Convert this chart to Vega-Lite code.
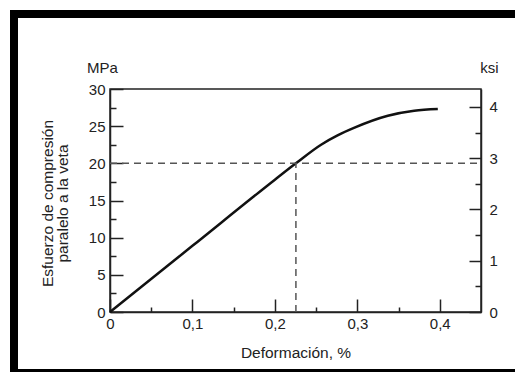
{
  "$schema": "https://vega.github.io/schema/vega-lite/v6.json",
  "padding": {"left": 10, "top": 10, "right": 0, "bottom": 0},
  "background": "white",
  "spacing": 0,
  "vconcat": [
    {
      "width": 505, "height": 8,
      "view": {"fill": "black", "stroke": null},
      "data": {"values": []},
      "mark": "point",
      "encoding": {}
    },
    {
      "spacing": 21,
      "hconcat": [
        {
          "width": 8, "height": 351,
          "view": {"fill": "black", "stroke": null},
          "data": {"values": []},
          "mark": "point",
          "encoding": {}
        },
        {
          "spacing": 40,
          "vconcat": [
            {"width": 1, "height": 1, "view": {"stroke": null}, "data": {"values": []}, "mark": "point", "encoding": {}},
            {
              "width": 371, "height": 223,
              "view": {"stroke": "#222", "strokeWidth": 1.5},
              "resolve": {"scale": {"y": "independent"}, "axis": {"y": "independent", "x": "independent"}},
              "layer": [
                {
                  "data": {"values": [
                    {"strain": 0, "stress": 0},
                    {"strain": 0.1, "stress": 8.9},
                    {"strain": 0.2, "stress": 17.8},
                    {"strain": 0.2255, "stress": 20},
                    {"strain": 0.256, "stress": 22.5},
                    {"strain": 0.276, "stress": 23.75},
                    {"strain": 0.2966, "stress": 24.8},
                    {"strain": 0.337, "stress": 26.4},
                    {"strain": 0.369, "stress": 27.07},
                    {"strain": 0.3976, "stress": 27.3}
                  ]},
                  "mark": {"type": "line", "color": "#111", "strokeWidth": 2.5, "interpolate": "monotone"},
                  "encoding": {
                    "x": {
                      "field": "strain", "type": "quantitative",
                      "scale": {"domain": [0, 0.45], "nice": false, "zero": false},
                      "axis": {
                        "orient": "bottom",
                        "title": "Deformación, %",
                        "titleY": 40, "titleBaseline": "middle",
                        "titleFontSize": 15.5,
                        "values": [0, 0.05, 0.1, 0.15, 0.2, 0.25, 0.3, 0.35, 0.4],
                        "labelExpr": "abs(datum.value*10 - round(datum.value*10)) < 0.001 ? replace(format(datum.value, '.1~f'), '.', ',') : ''",
                        "tickSize": {"condition": {"test": "abs(datum.value*10 - round(datum.value*10)) < 0.001", "value": -13}, "value": -5},
                        "labelPadding": 17,
                        "labelFlush": false,
                        "grid": false
                      }
                    },
                    "y": {
                      "field": "stress", "type": "quantitative",
                      "scale": {"domain": [0, 30], "nice": false},
                      "axis": {
                        "orient": "left",
                        "title": "MPa",
                        "titleAngle": 0, "titleX": -8, "titleY": -22,
                        "titleAlign": "center", "titleBaseline": "middle",
                        "values": [0, 2.5, 5, 7.5, 10, 12.5, 15, 17.5, 20, 22.5, 25, 27.5, 30],
                        "labelExpr": "datum.value % 5 === 0 ? datum.label : ''",
                        "tickSize": {"condition": {"test": "datum.value % 5 === 0", "value": -13}, "value": -6},
                        "labelPadding": 18,
                        "labelFlush": false,
                        "grid": false
                      }
                    }
                  }
                },
                {
                  "data": {"values": [
                    {"x1": 0, "x2": 0.45, "y1": 20, "y2": 20},
                    {"x1": 0.2255, "x2": 0.2255, "y1": 0, "y2": 20}
                  ]},
                  "mark": {"type": "rule", "color": "#555", "strokeWidth": 1.5, "strokeDash": [7, 5]},
                  "encoding": {
                    "x": {"field": "x1", "type": "quantitative", "axis": null},
                    "x2": {"field": "x2"},
                    "y": {
                      "field": "y1", "type": "quantitative",
                      "scale": {"domain": [0, 30], "nice": false},
                      "axis": {
                        "orient": "left",
                        "title": ["Esfuerzo de compresión", "paralelo a la veta"],
                        "titleX": -63, "titleY": 114,
                        "titleAngle": -90,
                        "titleFontSize": 15.5,
                        "titleAlign": "center", "titleBaseline": "middle",
                        "titleLineHeight": 15,
                        "labels": false, "ticks": false, "domain": false, "grid": false
                      }
                    },
                    "y2": {"field": "y2"}
                  }
                },
                {
                  "data": {"values": [{}]},
                  "mark": {"type": "point", "opacity": 0},
                  "encoding": {
                    "y": {
                      "datum": 0, "type": "quantitative",
                      "scale": {"domain": [0, 4.351], "nice": false},
                      "axis": {
                        "orient": "right",
                        "title": "ksi",
                        "titleAngle": 0, "titleX": 8, "titleY": -22,
                        "titleAlign": "center", "titleBaseline": "middle",
                        "values": [0, 0.5, 1, 1.5, 2, 2.5, 3, 3.5, 4],
                        "labelExpr": "datum.value % 1 === 0 ? format(datum.value, 'd') : ''",
                        "tickSize": {"condition": {"test": "datum.value % 1 === 0", "value": -12}, "value": -6},
                        "labelPadding": 20,
                        "labelFlush": false,
                        "grid": false
                      }
                    }
                  }
                }
              ]
            }
          ]
        }
      ]
    },
    {
      "width": 505, "height": 10,
      "view": {"fill": "black", "stroke": null},
      "data": {"values": []},
      "mark": "point",
      "encoding": {}
    }
  ],
  "config": {
    "font": "Liberation Sans",
    "axis": {
      "labelFont": "Liberation Sans",
      "labelFontSize": 15,
      "labelColor": "#222",
      "titleFont": "Liberation Sans",
      "titleFontSize": 15,
      "titleFontWeight": "normal",
      "titleColor": "#222",
      "domainColor": "#222",
      "domainWidth": 1.5,
      "tickColor": "#222",
      "tickWidth": 1.5
    }
  }
}
